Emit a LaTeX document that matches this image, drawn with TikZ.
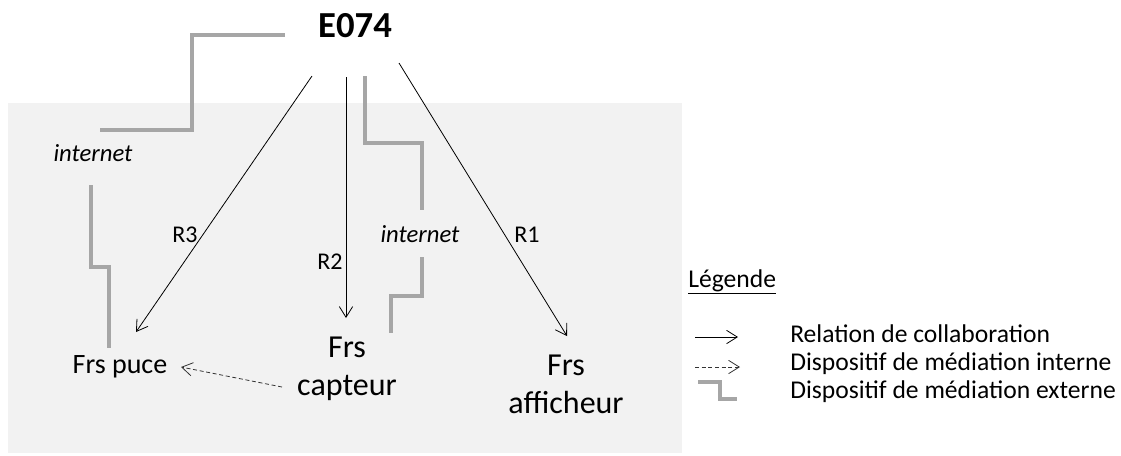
\documentclass[tikz,border=0pt]{standalone}
\usepackage{fontspec}
\setmainfont{Carlito}
\usetikzlibrary{arrows.meta}

\definecolor{fondgris}{HTML}{F2F2F2}
\definecolor{traitgris}{HTML}{A6A6A6}

\begin{document}
\begin{tikzpicture}[x=0.75pt,y=-0.75pt,
  rel/.style={-{Straight Barb[length=8pt,width=10pt]}, line width=0.6pt},
  medint/.style={rel, draw=black!80, dash pattern=on 3pt off 2pt},
  medext/.style={draw=traitgris, line width=2.5pt},
  lbl/.style={inner sep=0pt, anchor=base, font=\fontsize{18}{21}\selectfont},
  fourn/.style={inner sep=0pt, anchor=base, align=center, font=\fontsize{24}{28.5}\selectfont},
  legtxt/.style={inner sep=0pt, anchor=base west, font=\fontsize{19.2}{21}\selectfont}]

\useasboundingbox (0,0) rectangle (1121,455);

% Grey zone of the suppliers
\fill[fondgris] (8,103) rectangle (682,453);

% Firm and suppliers
\node[inner sep=0pt, anchor=base, font=\fontsize{27.5}{33}\selectfont\bfseries] (e074) at (355,37) {E074};
\node[inner sep=0pt, anchor=base, font=\fontsize{21}{25}\selectfont] (puce) at (120,373) {Frs puce};
\node[fourn] (capteur) at (347,395) {Frs\\capteur};
\node[fourn] (afficheur) at (566,413) {Frs\\afficheur};

% Labels
\node[lbl, font=\fontsize{18.5}{21}\selectfont\itshape] (net1) at (93,161) {internet};
\node[lbl, font=\fontsize{18.5}{21}\selectfont\itshape] (net2) at (420,242) {internet};
\node[lbl] (r3) at (185,242) {R3};
\node[lbl] (r2) at (330,269) {R2};
\node[lbl] (r1) at (527,242) {R1};

% Ends of the connectors
\coordinate (r3a) at (312,76);  \coordinate (r3b) at (136,332);
\coordinate (r2a) at (346,77);  \coordinate (r2b) at (346,318);
\coordinate (r1a) at (399,63);  \coordinate (r1b) at (567,336);
\coordinate (inta) at (282,387); \coordinate (intb) at (181,367);

% Collaboration relations
\draw[rel] (r3a) -- (r3b);
\draw[rel] (r2a) -- (r2b);
\draw[rel] (r1a) -- (r1b);
\draw[medint] (inta) -- (intb);

% External mediation (internet)
\draw[medext] (285,35) -- (192,35) -- (192,130) -- (100,130);
\draw[medext] (91,185) -- (91,267) -- (109,267) -- (109,348);
\draw[medext] (365,76) -- (365,143) -- (422,143) -- (422,210);
\draw[medext] (422,257) -- (422,296) -- (391,296) -- (391,333);

% Legend
\node[legtxt] (leg) at (688,287) {\underline{Légende}};
\node[legtxt] (leg1) at (790,342) {Relation de collaboration};
\node[legtxt] (leg2) at (790,370) {Dispositif de médiation interne};
\node[legtxt] (leg3) at (790,398) {Dispositif de médiation externe};
\coordinate (l1a) at (695,337); \coordinate (l1b) at (738,337);
\coordinate (l2a) at (695,367); \coordinate (l2b) at (740,367);
\draw[rel] (l1a) -- (l1b);
\draw[medint] (l2a) -- (l2b);
\draw[medext] (698,382) -- (720,382) -- (720,399) -- (737,399);

\end{tikzpicture}
\end{document}
